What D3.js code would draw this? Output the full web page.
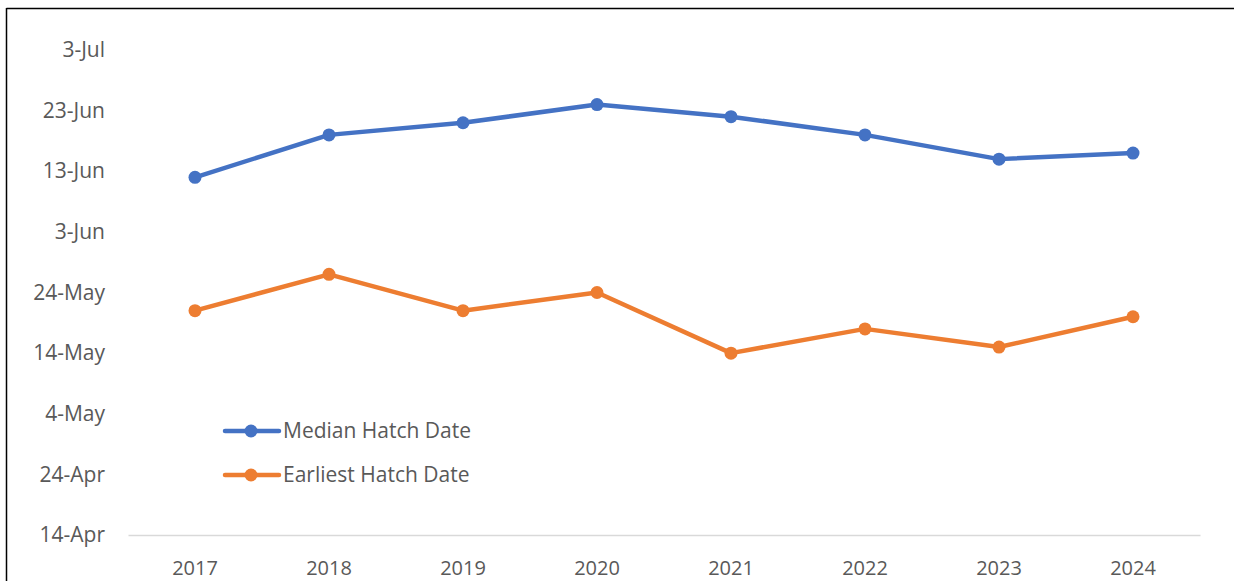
<!DOCTYPE html>
<html>
<head>
<meta charset="utf-8">
<script src="https://cdn.jsdelivr.net/npm/d3@7"></script>
<style>
  html, body { margin: 0; padding: 0; background: #fff; }
  svg { display: block; }
  text { font-family: "Open Sans", "Liberation Sans", sans-serif; fill: #595959; }
</style>
</head>
<body>
<svg id="chart" width="1234" height="581"></svg>
<script>
const years = ["2017", "2018", "2019", "2020", "2021", "2022", "2023", "2024"];
const medianHatch = ["12-Jun", "19-Jun", "21-Jun", "24-Jun", "22-Jun", "19-Jun", "15-Jun", "16-Jun"];
const earliestHatch = ["21-May", "27-May", "21-May", "24-May", "14-May", "18-May", "15-May", "20-May"];
const yTickLabels = ["14-Apr", "24-Apr", "4-May", "14-May", "24-May", "3-Jun", "13-Jun", "23-Jun", "3-Jul"];
const seriesNames = ["Median Hatch Date", "Earliest Hatch Date"];
const seriesColors = ["#4472C4", "#ED7D31"];

const parse = d3.timeParse("%d-%b");
const fmt = d3.timeFormat("%-d-%b");

const svg = d3.select("#chart");
const W = 1234, H = 581;
const plot = { left: 128, right: 1200, top: 50, bottom: 535 };

// frame (top and left edges visible in reference)
svg.append("line").attr("x1", 6.5).attr("x2", 1234).attr("y1", 8.5).attr("y2", 8.5)
  .attr("stroke", "#000").attr("stroke-width", 1.5);
svg.append("line").attr("x1", 6.5).attr("x2", 6.5).attr("y1", 8).attr("y2", H)
  .attr("stroke", "#000").attr("stroke-width", 1.5);

const x = d3.scaleBand().domain(years).range([plot.left, plot.right]).paddingInner(0).paddingOuter(0);
const yTicks = yTickLabels.map(parse);
const y = d3.scaleTime().domain([yTicks[0], yTicks[yTicks.length - 1]]).range([plot.bottom, plot.top]);

// y axis labels
const yAxis = d3.axisLeft(y).tickValues(yTicks).tickFormat(fmt).tickSize(0).tickPadding(0);
const gy = svg.append("g").attr("transform", "translate(105,0)").call(yAxis);
gy.select(".domain").remove();
gy.selectAll("text").attr("font-size", 21).attr("fill", "#595959")
  .attr("font-family", "'Open Sans', 'Liberation Sans', sans-serif");

// x axis
const xAxis = d3.axisBottom(x).tickSize(0).tickPadding(0);
const gx = svg.append("g").attr("transform", `translate(0,${plot.bottom})`).call(xAxis);
gx.select(".domain").attr("stroke", "#D9D9D9").attr("stroke-width", 1.5);
gx.selectAll("text").attr("font-size", 20).attr("fill", "#595959").attr("dy", "0").attr("y", 40)
  .attr("font-family", "'Open Sans', 'Liberation Sans', sans-serif");

const allSeries = [medianHatch, earliestHatch];
const line = d3.line().x((d, i) => x(years[i]) + x.bandwidth() / 2).y(d => y(parse(d)));

allSeries.forEach((s, k) => {
  svg.append("path").datum(s).attr("d", line).attr("fill", "none")
    .attr("stroke", seriesColors[k]).attr("stroke-width", 4.5).attr("stroke-linejoin", "round");
  svg.append("g").selectAll("circle").data(s).join("circle")
    .attr("cx", (d, i) => x(years[i]) + x.bandwidth() / 2)
    .attr("cy", d => y(parse(d)))
    .attr("r", 6.5).attr("fill", seriesColors[k]);
});

// legend
const legend = svg.append("g");
seriesNames.forEach((name, k) => {
  const ly = 431 + k * 44;
  legend.append("line").attr("x1", 225).attr("x2", 279).attr("y1", ly).attr("y2", ly)
    .attr("stroke", seriesColors[k]).attr("stroke-width", 4.5).attr("stroke-linecap", "round");
  legend.append("circle").attr("cx", 251).attr("cy", ly).attr("r", 6.5).attr("fill", seriesColors[k]);
  legend.append("text").attr("x", 283).attr("y", ly + 7).attr("font-size", 21).text(name);
});
</script>
</body>
</html>
